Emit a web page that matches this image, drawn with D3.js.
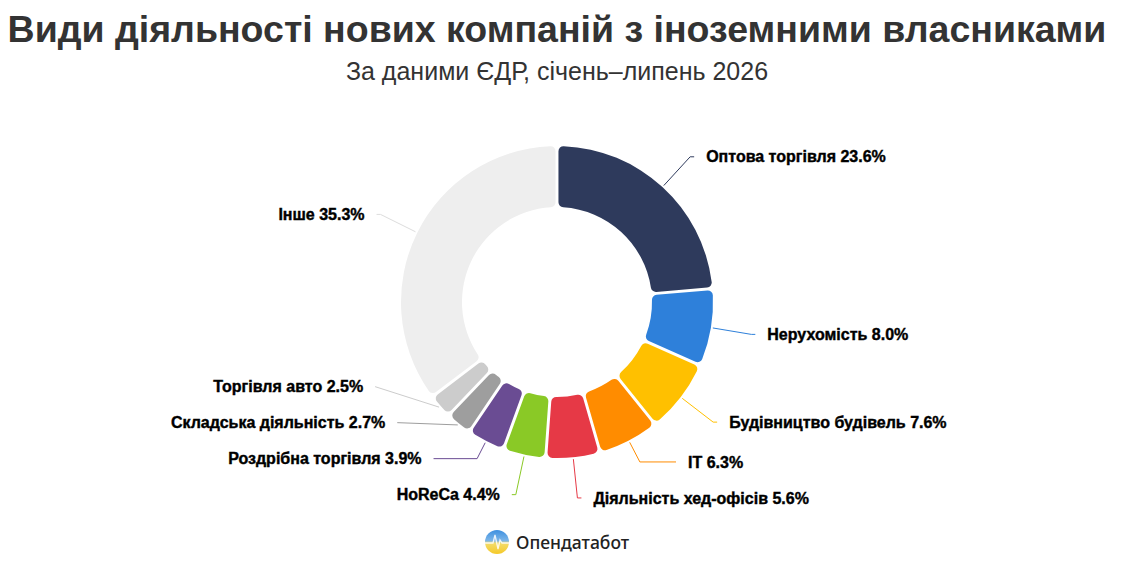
<!DOCTYPE html>
<html>
<head>
<meta charset="utf-8">
<script src="https://cdn.jsdelivr.net/npm/d3@7"></script>
<style>
  body { margin: 0; background: #fff; }
  svg { display: block; }
</style>
</head>
<body>
<div id="chart"></div>
<script>
// data
var categories = ["Оптова торгівля", "Нерухомість", "Будівництво будівель", "IT",
  "Діяльність хед-офісів", "HoReCa", "Роздрібна торгівля", "Складська діяльність",
  "Торгівля авто", "Інше"];
var shares = [23.6, 8.0, 7.6, 6.3, 5.6, 4.4, 3.9, 2.7, 2.5, 35.3];
var colors = ["#2e3a5c", "#2e80da", "#ffc000", "#ff8c00", "#e63946",
  "#8ac926", "#6a4c93", "#9e9e9e", "#cccccc", "#eeeeee"];

var width = 1129, height = 564;
var cx = 557, cy = 302,
    outerR = 156, innerR = 95,
    labelR = 197, minGap = 36;

var svg = d3.select("#chart").append("svg")
  .attr("width", width)
  .attr("height", height);

// title
svg.append("text")
  .attr("x", cx).attr("y", 42)
  .attr("text-anchor", "middle")
  .style("font-family", "'Liberation Sans', Arial, sans-serif")
  .style("font-weight", "bold")
  .style("font-size", "37.5px")
  .style("fill", "#333")
  .text("Види діяльності нових компаній з іноземними власниками");

svg.append("text")
  .attr("x", cx).attr("y", 80)
  .attr("text-anchor", "middle")
  .style("font-family", "'Liberation Sans', Arial, sans-serif")
  .style("font-size", "25px")
  .style("fill", "#333")
  .text("За даними ЄДР, січень–липень 2026");

var data = categories.map(function(c, i) {
  return {name: c, value: shares[i], color: colors[i]};
});

var pie = d3.pie()
  .sort(null)
  .value(function(d) { return d.value; });

var arc = d3.arc()
  .innerRadius(innerR)
  .outerRadius(outerR)
  .cornerRadius(5)
  .padAngle(0.016);

var arcs = pie(data);

var g = svg.append("g")
  .attr("transform", "translate(" + cx + "," + cy + ")");

g.selectAll("path.slice")
  .data(arcs)
  .enter()
  .append("path")
    .attr("class", "slice")
    .attr("d", arc)
    .attr("fill", function(d) { return d.data.color; });

// label layout: natural spot on a circle, then push apart per side
var labels = arcs.map(function(d) {
  var a = (d.startAngle + d.endAngle) / 2;
  var sx = Math.sin(a), sy = -Math.cos(a);
  return {
    d: d, a: a, sx: sx, sy: sy,
    right: sx >= 0,
    nx: labelR * sx,
    y: labelR * sy
  };
});

[true, false].forEach(function(side) {
  var group = labels.filter(function(l) { return l.right === side; })
    .sort(function(a, b) { return b.y - a.y; });
  for (var i = 1; i < group.length; i++) {
    group[i].y = Math.min(group[i].y, group[i - 1].y - minGap);
  }
});

labels.forEach(function(l) {
  var dy = l.y;
  var x;
  if (Math.abs(dy) < labelR) {
    x = Math.sqrt(labelR * labelR - dy * dy) * (l.right ? 1 : -1);
    if (Math.abs(labelR * l.sy - dy) < 0.5) x = l.nx;
  } else {
    x = l.nx;
  }
  l.x = x;
  // start of line on the outer edge
  var r0 = outerR + 2;
  l.p0 = [r0 * l.sx, r0 * l.sy];
  var t = (l.y - l.p0[1]) / l.sy;
  var endX = x + (l.right ? 4 : -4);
  if (t >= 0 && t < 80) {
    l.p1 = [l.p0[0] + t * l.sx, l.y];
  } else {
    l.p1 = [endX, l.y];
  }
  l.p2 = [endX, l.y];
  l.tx = x + (l.right ? 16 : -16);
});

g.selectAll("path.leader")
  .data(labels)
  .enter()
  .append("path")
    .attr("class", "leader")
    .attr("d", function(l) { return d3.line()([l.p0, l.p1, l.p2]); })
    .attr("fill", "none")
    .attr("stroke", function(l) { return l.d.data.value > 30 ? "#dddddd" : l.d.data.color; })
    .attr("stroke-width", 1);

g.selectAll("text.label")
  .data(labels)
  .enter()
  .append("text")
    .attr("class", "label")
    .attr("x", function(l) { return l.tx; })
    .attr("y", function(l) { return l.y; })
    .attr("dy", "0.35em")
    .attr("text-anchor", function(l) { return l.right ? "start" : "end"; })
    .style("font-family", "'Liberation Sans', Arial, sans-serif")
    .style("font-weight", "bold")
    .style("font-size", "16px")
    .style("fill", "#000")
    .style("stroke", "#000")
    .style("stroke-width", 0.4)
    .text(function(l) { return l.d.data.name + " " + l.d.data.value.toFixed(1) + "%"; });

// logo
var logo = svg.append("g").attr("transform", "translate(497,542)");
var defs = svg.append("defs");
var grad = defs.append("linearGradient")
  .attr("id", "logoGrad")
  .attr("x1", 0).attr("y1", 0).attr("x2", 0).attr("y2", 1);
grad.append("stop").attr("offset", "0%").attr("stop-color", "#3d8fe0");
grad.append("stop").attr("offset", "45%").attr("stop-color", "#7db6e8");
grad.append("stop").attr("offset", "55%").attr("stop-color", "#f3dc6a");
grad.append("stop").attr("offset", "100%").attr("stop-color", "#f5c928");
logo.append("circle")
  .attr("r", 12)
  .attr("fill", "url(#logoGrad)");
logo.append("path")
  .attr("d", "M-12,1 L-4,1 L-2,-7 L1,7 L3,-2 L5,1 L12,1")
  .attr("fill", "none")
  .attr("stroke", "#fff")
  .attr("stroke-width", 1.3)
  .attr("stroke-opacity", 0.85);
svg.append("text")
  .attr("x", 516).attr("y", 549)
  .style("font-family", "'Noto Sans', 'Open Sans', sans-serif")
  .style("font-weight", "500")
  .style("font-size", "17.5px")
  .style("fill", "#222")
  .text("Опендатабот");
</script>
</body>
</html>
